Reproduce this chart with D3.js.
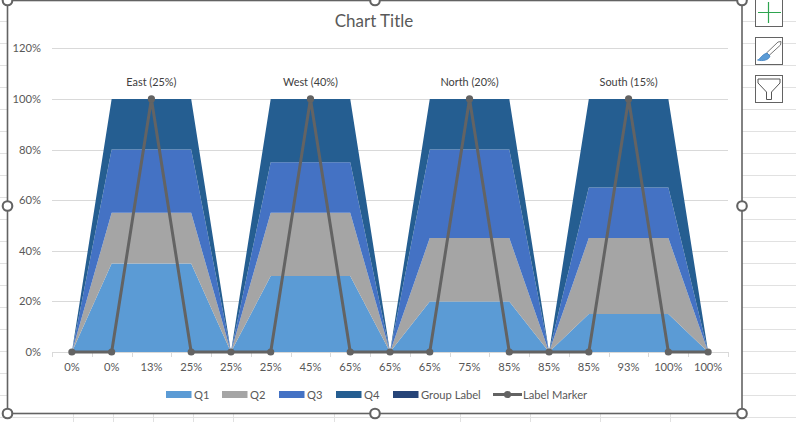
<!DOCTYPE html>
<html><head><meta charset="utf-8">
<script src="https://cdn.jsdelivr.net/npm/d3@7"></script>
<style>html,body{margin:0;padding:0;background:#fff;overflow:hidden}svg{display:block}text{font-family:Lato,"Open Sans",sans-serif}</style>
</head><body><svg id="c" width="796" height="422"></svg>
<script>
const chartTitle = "Chart Title";
const categories = ["0%","0%","13%","25%","25%","25%","45%","65%","65%","65%","75%","85%","85%","85%","93%","100%","100%"];
const q1 = [0,35,35,35,0,30,30,30,0,20,20,20,0,15,15,15,0];
const q2 = [0,20,20,20,0,25,25,25,0,25,25,25,0,30,30,30,0];
const q3 = [0,25,25,25,0,20,20,20,0,35,35,35,0,20,20,20,0];
const q4 = [0,20,20,20,0,25,25,25,0,20,20,20,0,35,35,35,0];
const groupLabel = [0,0,0,0,0,0,0,0,0,0,0,0,0,0,0,0,0];
const labelMarker = [0,0,100,0,0,0,100,0,0,0,100,0,0,0,100,0,0];
const pointLabels = ["","","East (25%)","","","","West (40%)","","","","North (20%)","","","","South (15%)","",""];
const yTicks = [0,20,40,60,80,100,120];
const seriesNames = ["Q1","Q2","Q3","Q4","Group Label"];
const seriesColors = ["#5B9BD5","#A5A5A5","#4472C4","#255E91","#264478"];
const lineName = "Label Marker";
const lineColor = "#636363";

const svg = d3.select("#c");
const L=52,R=728,T=48.3,B=352;
const idx = categories.map((_,i)=>i);
const band = d3.scaleBand().domain(idx).range([L,R]);
const x = i => band(i)+band.bandwidth()/2;
const y = d3.scaleLinear().domain([0,120]).range([B,T]);

// spreadsheet behind the chart
const sheet = svg.append("g").attr("stroke","#E1E1E1").attr("stroke-width",1).attr("shape-rendering","crispEdges");
d3.range(21.5,422,22).forEach(v=>{
  sheet.append("line").attr("x1",0).attr("x2",7).attr("y1",v).attr("y2",v);
  sheet.append("line").attr("x1",742).attr("x2",796).attr("y1",v).attr("y2",v);
});
sheet.append("line").attr("x1",0).attr("x2",796).attr("y1",417.5).attr("y2",417.5);
[73.5,113.5,153.5,193.5,233.5,334.5,460.5,530.5,600.5,670.5].forEach(v=>
  sheet.append("line").attr("x1",v).attr("x2",v).attr("y1",414).attr("y2",422));

// chart area
svg.append("rect").attr("x",7.5).attr("y",0.5).attr("width",734.5).attr("height",413).attr("fill","#fff").attr("stroke","#636363").attr("stroke-width",1.6);

svg.append("text").attr("x",374).attr("y",27).attr("text-anchor","middle").attr("font-size",17).attr("fill","#595959").text(chartTitle);

// gridlines + y labels
const yAxis = d3.axisLeft(y).tickValues(yTicks).tickFormat(d=>d+"%").tickSize(0).tickPadding(11);
const gy = svg.append("g").attr("transform",`translate(${L},0)`).call(yAxis);
gy.select(".domain").remove();
gy.selectAll("text").attr("font-size",11.2).attr("fill","#595959").style("font-family","Lato");
svg.append("g").selectAll("line").data(yTicks).join("line")
  .attr("x1",L).attr("x2",R).attr("y1",d=>Math.round(y(d))+.5).attr("y2",d=>Math.round(y(d))+.5)
  .attr("stroke","#D9D9D9").attr("shape-rendering","crispEdges");

// stacked areas
const rows = idx.map(i=>({i,"Q1":q1[i],"Q2":q2[i],"Q3":q3[i],"Q4":q4[i],"Group Label":groupLabel[i]}));
const stacked = d3.stack().keys(seriesNames)(rows);
const area = d3.area().x(d=>x(d.data.i)).y0(d=>y(d[0])).y1(d=>y(d[1]));
svg.append("g").selectAll("path").data(stacked).join("path")
  .attr("d",area).attr("fill",(d,i)=>seriesColors[i]);

// category axis
const gx = svg.append("g").attr("transform",`translate(0,${B})`);
gx.append("line").attr("x1",L).attr("x2",R).attr("y1",.5).attr("y2",.5).attr("stroke","#D9D9D9").attr("shape-rendering","crispEdges");
gx.selectAll("line.t").data(d3.range(categories.length+1)).join("line").attr("class","t")
  .attr("x1",i=>Math.round(L+i*band.step())+.5).attr("x2",i=>Math.round(L+i*band.step())+.5)
  .attr("y1",0).attr("y2",5).attr("stroke","#D9D9D9").attr("shape-rendering","crispEdges");
gx.selectAll("text").data(categories).join("text")
  .attr("x",(d,i)=>x(i)).attr("y",19).attr("text-anchor","middle").attr("font-size",11.2).attr("fill","#595959").text(d=>d);

// line series
const line = d3.line().x((d,i)=>x(i)).y(d=>y(d));
svg.append("path").attr("d",line(labelMarker)).attr("fill","none").attr("stroke",lineColor).attr("stroke-width",3).attr("stroke-linejoin","round");
svg.append("g").selectAll("circle").data(labelMarker).join("circle")
  .attr("cx",(d,i)=>x(i)).attr("cy",d=>y(d)).attr("r",3.6).attr("fill",lineColor);
svg.append("g").selectAll("text").data(pointLabels).join("text")
  .attr("x",(d,i)=>x(i)).attr("y",d=>y(100)-13).attr("text-anchor","middle").attr("font-size",10.9).attr("fill","#404040").text(d=>d);

// legend
const legX = [166,222,279,336,393];
const leg = svg.append("g");
seriesNames.forEach((n,i)=>{
  leg.append("rect").attr("x",legX[i]).attr("y",391).attr("width",25.5).attr("height",7).attr("fill",seriesColors[i]);
  leg.append("text").attr("x",legX[i]+28).attr("y",398.5).attr("font-size",11.2).attr("fill","#595959").text(n);
});
leg.append("line").attr("x1",493).attr("x2",522).attr("y1",394.5).attr("y2",394.5).attr("stroke",lineColor).attr("stroke-width",3);
leg.append("circle").attr("cx",507.5).attr("cy",394.5).attr("r",3.6).attr("fill",lineColor);
leg.append("text").attr("x",523).attr("y",398.5).attr("font-size",11.2).attr("fill","#595959").text(lineName);

// selection handles
[[7.5,0.5],[375,0.5],[742,0.5],[7.5,206],[742,206],[7.5,413.5],[375,413.5],[742,413.5]].forEach(p=>
  svg.append("circle").attr("cx",p[0]).attr("cy",p[1]).attr("r",4.8).attr("fill","#fff").attr("stroke","#636363").attr("stroke-width",2.1));

// side buttons
[-1,37.5,75.5].forEach(t=>svg.append("rect").attr("x",755.5).attr("y",t).attr("width",27).attr("height",t<0?27.5:27).attr("fill","#fff").attr("stroke","#636363").attr("stroke-width",1));
svg.append("path").attr("d","M758 12.5H781M768.5 2V23").attr("stroke","#2EA44F").attr("stroke-width",1.2).attr("fill","none");
svg.append("path").attr("d","M778 42L781 41.5L780.5 45L769 55.5L766.5 53Z").attr("fill","#fff").attr("stroke","#777").attr("stroke-width",1);
svg.append("path").attr("d","M767 53L770 56C769 60 763 61.5 757.5 60C760.5 59 761 55 767 53Z").attr("fill","#5B9BD5").attr("stroke","#3C7FC0").attr("stroke-width",.8);
svg.append("path").attr("d","M758 79H780V83L771.5 92V99.5H766.5V92L758 83Z").attr("fill","#fff").attr("stroke","#555").attr("stroke-width",1);
</script></body></html>
